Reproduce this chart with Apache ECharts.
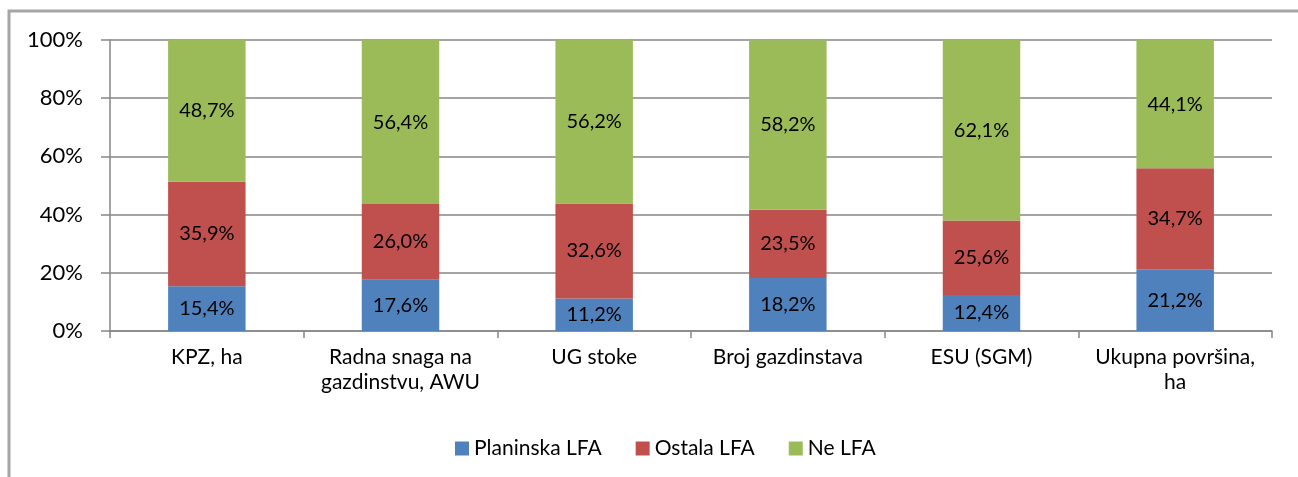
<!DOCTYPE html>
<html>
<head>
<meta charset="utf-8">
<script src="https://cdn.jsdelivr.net/npm/echarts@6/dist/echarts.min.js"></script>
<style>
  html, body { margin: 0; padding: 0; background: #fff; }
  #chart { width: 1298px; height: 477px; }
</style>
</head>
<body>
<div id="chart"></div>
<script>
// kategorije i vrijednosti (%)
var categories = ['KPZ, ha', 'Radna snaga na\ngazdinstvu, AWU', 'UG stoke', 'Broj gazdinstava', 'ESU (SGM)', 'Ukupna površina,\nha'];
var planinska = [15.4, 17.6, 11.2, 18.2, 12.4, 21.2];
var ostala = [35.9, 26.0, 32.6, 23.5, 25.6, 34.7];
var neLfa = [48.7, 56.4, 56.2, 58.2, 62.1, 44.1];
var seriesNames = ['Planinska LFA', 'Ostala LFA', 'Ne LFA'];
var yTicks = [0, 20, 40, 60, 80, 100];

var font = 'Lato, "Open Sans", sans-serif';
var colors = ['#4f81bd', '#c0504d', '#9bbb59'];

function fmt(p) {
    return p.value.toFixed(1).replace('.', ',') + '%';
}

function bar(name, data) {
    return {
        name: name,
        type: 'bar',
        stack: 'total',
        barWidth: '40%',
        data: data,
        label: {
            show: true,
            position: 'inside',
            color: '#000',
            fontSize: 20,
            fontFamily: font,
            formatter: fmt
        }
    };
}

var myChart = echarts.init(document.getElementById('chart'));
myChart.setOption({
    animation: false,
    color: colors,
    textStyle: { fontFamily: font },
    graphic: [{
        type: 'polyline',
        shape: { points: [[9, 477], [9, 11], [1298, 11]] },
        style: { stroke: '#a6a6a6', lineWidth: 3, fill: null }
    }],
    grid: { left: 110, right: 26, top: 40, bottom: 146 },
    legend: {
        data: seriesNames,
        top: 433,
        left: 450,
        icon: 'rect',
        itemWidth: 14,
        itemHeight: 14,
        itemGap: 34,
        textStyle: { fontSize: 21, color: '#000', fontFamily: font }
    },
    xAxis: {
        type: 'category',
        data: categories,
        axisLine: { lineStyle: { color: '#868686', width: 1.5 } },
        axisTick: { show: true, interval: 0, length: 7, lineStyle: { color: '#868686', width: 1.5 } },
        axisLabel: {
            interval: 0,
            margin: 14,
            fontSize: 21,
            lineHeight: 25,
            color: '#000',
            fontFamily: font
        }
    },
    yAxis: {
        type: 'value',
        min: yTicks[0],
        max: yTicks[yTicks.length - 1],
        interval: 20,
        axisLine: { show: true, lineStyle: { color: '#868686', width: 1.5 } },
        axisTick: { show: true, length: 9, lineStyle: { color: '#868686', width: 1.5 } },
        splitLine: { lineStyle: { color: '#868686', width: 1.5 } },
        axisLabel: {
            margin: 27,
            fontSize: 22,
            color: '#000',
            fontFamily: font,
            formatter: '{value}%'
        }
    },
    series: [
        bar(seriesNames[0], planinska),
        bar(seriesNames[1], ostala),
        bar(seriesNames[2], neLfa)
    ]
});
</script>
</body>
</html>
